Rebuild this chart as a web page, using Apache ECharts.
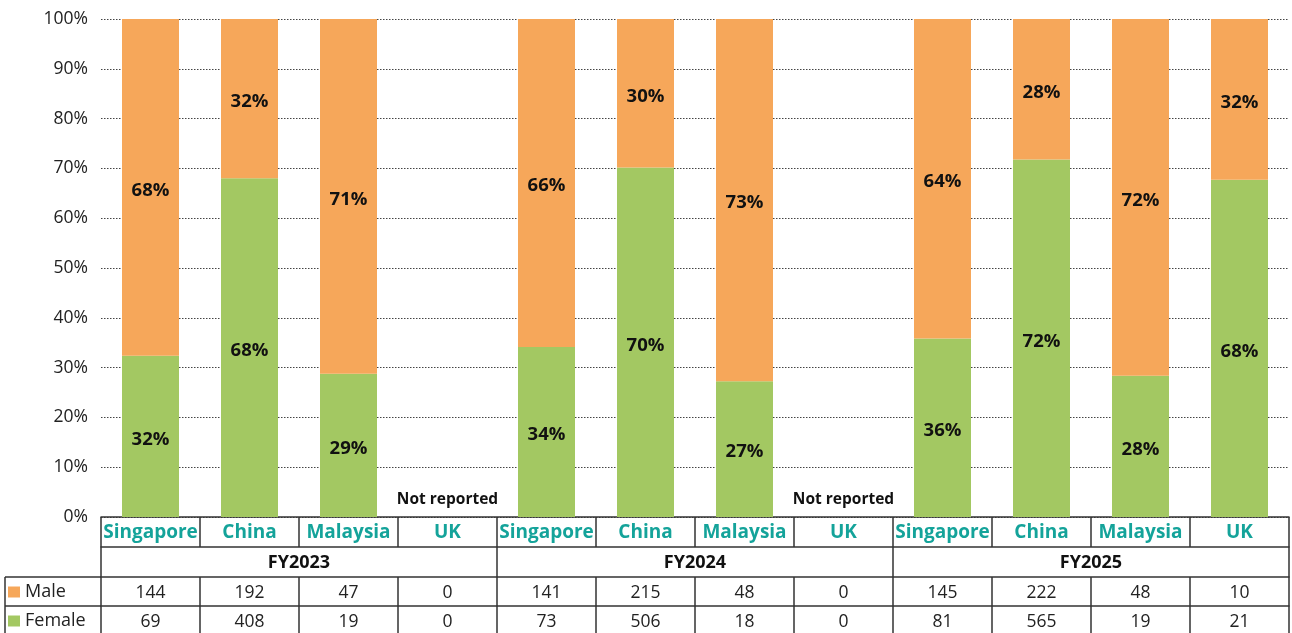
<!DOCTYPE html>
<html>
<head>
<meta charset="utf-8">
<script src="https://cdn.jsdelivr.net/npm/echarts@6/dist/echarts.min.js"></script>
<style>
html,body{margin:0;padding:0;background:#fff;}
#main{width:1292px;height:633px;}
</style>
</head>
<body>
<div id="main"></div>
<script>
const countries = ['Singapore','China','Malaysia','UK','Singapore','China','Malaysia','UK','Singapore','China','Malaysia','UK'];
const years = ['FY2023','FY2024','FY2025'];
const maleCounts = [144,192,47,0,141,215,48,0,145,222,48,10];
const femaleCounts = [69,408,19,0,73,506,18,0,81,565,19,21];
const yTicks = [0,10,20,30,40,50,60,70,80,90,100];

const FONT = '"Open Sans", "Noto Sans", sans-serif';
const ORANGE = '#F6A75A';
const GREEN = '#A3C862';
const TEAL = '#14A39A';
const LINE = '#333';

const totals = maleCounts.map((m, i) => m + femaleCounts[i]);
const malePct = maleCounts.map((m, i) => totals[i] ? m / totals[i] * 100 : 0);
const femalePct = femaleCounts.map((f, i) => totals[i] ? f / totals[i] * 100 : 0);

const femaleData = femalePct.map((v, i) => totals[i] ? v : {
  value: 0,
  label: {show: true, position: 'top', distance: 9, offset: [0, 0], formatter: 'Not reported', fontSize: 15.5, fontWeight: 'bold', color: '#111', fontFamily: FONT}
});

function tableAxis(data, offset, labelStyle) {
  return {
    type: 'category',
    position: 'bottom',
    offset: offset,
    data: data,
    axisLine: {show: true, onZero: false, lineStyle: {color: LINE, width: 1.5}},
    axisTick: {show: true, length: 30, interval: 0, alignWithLabel: false, lineStyle: {color: LINE, width: 1.5}},
    axisLabel: Object.assign({interval: 0, margin: 16, verticalAlign: 'middle', fontFamily: FONT}, labelStyle),
    splitLine: {show: false}
  };
}

function legendItem(name, top) {
  return {
    data: [name],
    orient: 'horizontal',
    left: 8, top: top,
    icon: 'rect', itemWidth: 12, itemHeight: 11, itemGap: 0,
    textStyle: {fontSize: 18, color: '#222', fontFamily: FONT},
    padding: 0,
    selectedMode: false
  };
}

const barLabel = {show: true, position: 'inside', offset: [0, 3], fontSize: 18.5, fontWeight: 'bold', color: '#111', fontFamily: FONT,
  formatter: p => p.value > 0 ? Math.round(p.value) + '%' : ''};

const chart = echarts.init(document.getElementById('main'));
chart.setOption({
  animation: false,
  backgroundColor: '#fff',
  grid: {left: 101, right: 3, top: 19, bottom: 116, containLabel: false},
  legend: [legendItem('Male', 583), legendItem('Female', 612)],
  xAxis: [
    tableAxis(countries, 0, {fontSize: 19, fontWeight: 'bold', color: TEAL}),
    tableAxis(years, 30, {fontSize: 18, fontWeight: 'bold', color: '#111'}),
    tableAxis(maleCounts.map(String), 60, {fontSize: 17.5, color: '#222'}),
    tableAxis(femaleCounts.map(String), 89, {fontSize: 17.5, color: '#222'})
  ],
  yAxis: {
    type: 'value',
    min: yTicks[0], max: yTicks[yTicks.length - 1], interval: yTicks[1] - yTicks[0],
    axisLine: {show: false},
    axisTick: {show: false},
    axisLabel: {formatter: '{value}%', fontSize: 17.5, color: '#222', margin: 13, fontFamily: FONT},
    splitLine: {show: true, lineStyle: {type: [1.5, 1.5], color: '#444', width: 1}}
  },
  series: [
    {
      name: 'Female', type: 'bar', stack: 'g', xAxisIndex: 0, barWidth: 57,
      itemStyle: {color: GREEN},
      label: barLabel,
      data: femaleData
    },
    {
      name: 'Male', type: 'bar', stack: 'g', xAxisIndex: 0, barWidth: 57,
      itemStyle: {color: ORANGE},
      label: barLabel,
      data: malePct
    }
  ],
  graphic: [
    {type: 'line', shape: {x1: 5, y1: 577, x2: 101, y2: 577}, style: {stroke: LINE, lineWidth: 1.5}},
    {type: 'line', shape: {x1: 5, y1: 606, x2: 101, y2: 606}, style: {stroke: LINE, lineWidth: 1.5}},
    {type: 'line', shape: {x1: 5, y1: 577, x2: 5, y2: 640}, style: {stroke: LINE, lineWidth: 1.5}}
  ]
});
</script>
</body>
</html>
